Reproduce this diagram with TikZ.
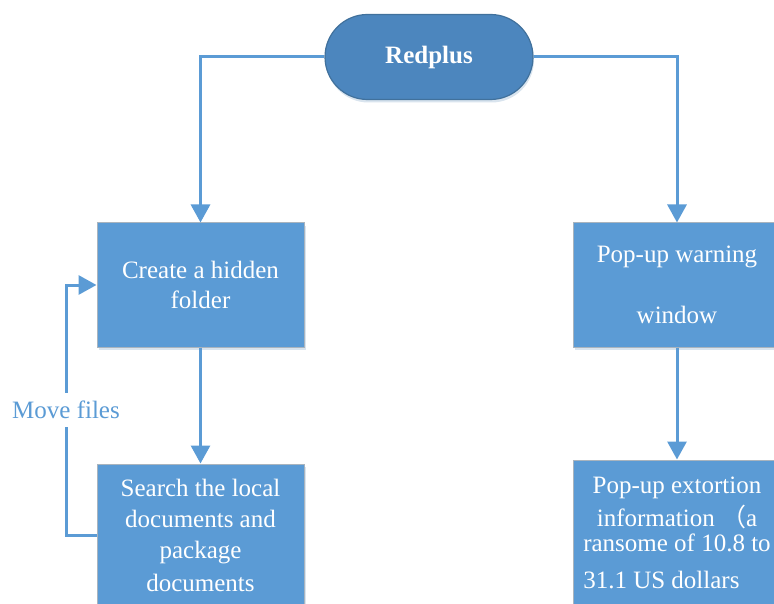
\documentclass[tikz,border=0pt]{standalone}
\usepackage{fontspec}
\setmainfont{Liberation Serif}
\newfontfamily\cjk{Noto Sans CJK SC}
\usetikzlibrary{arrows.meta,shadows}
\definecolor{boxblue}{HTML}{5B9BD5}
\definecolor{pillblue}{HTML}{4C86BE}
\definecolor{pilledge}{HTML}{41719C}
\definecolor{boxedge}{HTML}{A9B4BE}
\begin{document}
\begin{tikzpicture}[x=1pt,y=-1pt,
  every node/.style={font=\fontsize{25}{30}\selectfont},
  box/.style={rectangle, fill=boxblue, draw=boxedge, line width=1pt,
    minimum width=207pt, text=white, align=center,
    drop shadow={shadow xshift=2pt, shadow yshift=-3pt, opacity=0.25, fill=boxblue!70!gray}},
  pill/.style={rectangle, rounded corners=42.5pt, fill=pillblue, draw=pilledge,
    line width=1.2pt, minimum width=208pt, minimum height=85pt, text=white,
    drop shadow={shadow xshift=1pt, shadow yshift=-3pt, opacity=0.25, fill=boxblue!70!gray}},
  conn/.style={draw=boxblue, line width=3pt, -{Triangle[length=18pt,width=19pt]}},
  movetag/.style={fill=white, text=boxblue, inner xsep=1pt, inner ysep=8pt}
]
\clip (0,0) rectangle (774,604);

% top node
\node[pill] (redplus) at (429,57) {\textbf{Redplus}};

% left branch
\node[box, minimum height=124pt] (create) at (200.5,285)
  {Create a hidden\\folder};
\node[box, minimum height=142pt] (search) at (200.5,535)
  {Search the local\\[1pt]documents and\\[1pt]package\\[3pt]documents};

% right branch
\node[box, minimum width=208pt, minimum height=124pt] (warn) at (677,285)
  {Pop-up warning\\[31pt]window};
\node[box, minimum width=208pt, minimum height=150pt] (extort) at (677,535)
  {\begin{tabular}{@{}c@{}}
    Pop-up extortion\\[2pt]
    information {\cjk （}a\\[-5pt]
    ransome of 10.8 to\\[7pt]
    \multicolumn{1}{@{}l@{}}{31.1 US dollars}
  \end{tabular}};

% connectors
\draw[conn] (redplus.west) -| (create.north);
\draw[conn] (redplus.east) -| (warn.north);
\draw[conn] (create.south) -- (search.north);
\draw[conn] (warn.south) -- (extort.north);

% feedback loop
\coordinate (loopx) at (66,0);
\draw[conn] (search.west) -- (search.west -| loopx)
  -- node[movetag] (movelbl) {Move files} (create.west -| loopx)
  -- (create.west);
\end{tikzpicture}
\end{document}
